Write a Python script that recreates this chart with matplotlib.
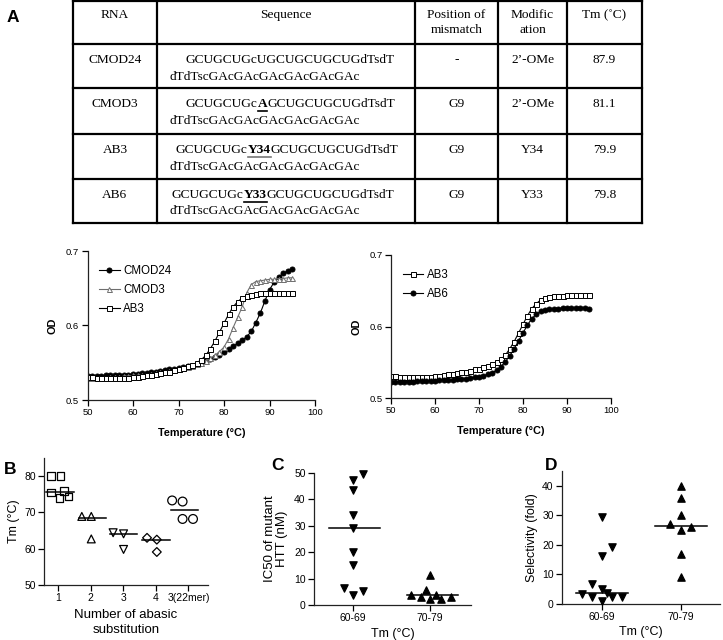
#!/usr/bin/env python
# coding: utf-8

"""Table of modified siRNAs, melting curves and Tm / IC50 / selectivity dot plots."""

import matplotlib
matplotlib.use("Agg")
import matplotlib.pyplot as plt
import numpy as np

# ---- melting curves (OD vs temperature) ----
temperature = list(range(50, 96))
od_cmod24 = [0.532, 0.532, 0.532, 0.532, 0.533, 0.533, 0.533, 0.534, 0.534, 0.534,
             0.535, 0.535, 0.536, 0.536, 0.537, 0.538, 0.539, 0.540, 0.541, 0.542,
             0.543, 0.544, 0.545, 0.546, 0.548, 0.549, 0.552, 0.555, 0.558, 0.561,
             0.564, 0.568, 0.572, 0.576, 0.580, 0.585, 0.592, 0.604, 0.617, 0.633,
             0.648, 0.658, 0.665, 0.670, 0.673, 0.676]
od_cmod3 = [0.530, 0.530, 0.530, 0.530, 0.530, 0.531, 0.531, 0.531, 0.532, 0.532,
            0.533, 0.533, 0.534, 0.534, 0.535, 0.536, 0.537, 0.538, 0.539, 0.540,
            0.541, 0.543, 0.544, 0.546, 0.548, 0.550, 0.553, 0.556, 0.560, 0.565,
            0.571, 0.582, 0.597, 0.611, 0.625, 0.644, 0.655, 0.659, 0.660, 0.661,
            0.662, 0.662, 0.663, 0.663, 0.664, 0.664]
od_ab3 = [0.531, 0.531, 0.530, 0.530, 0.530, 0.529, 0.529, 0.529, 0.530, 0.530,
          0.531, 0.531, 0.532, 0.533, 0.534, 0.535, 0.536, 0.537, 0.538, 0.540,
          0.541, 0.543, 0.545, 0.547, 0.550, 0.554, 0.560, 0.569, 0.579, 0.591,
          0.603, 0.615, 0.625, 0.632, 0.637, 0.640, 0.641, 0.642, 0.643, 0.643,
          0.644, 0.644, 0.644, 0.644, 0.644, 0.644]
od_ab6 = [0.523, 0.523, 0.523, 0.523, 0.523, 0.523, 0.524, 0.524, 0.524, 0.524,
          0.524, 0.525, 0.525, 0.525, 0.525, 0.526, 0.526, 0.527, 0.528, 0.529,
          0.530, 0.531, 0.533, 0.535, 0.539, 0.544, 0.551, 0.559, 0.569, 0.580,
          0.591, 0.602, 0.611, 0.617, 0.621, 0.623, 0.624, 0.625, 0.625, 0.626,
          0.626, 0.626, 0.626, 0.626, 0.626, 0.625]

# ---- table ----
table_header = ["RNA", "Sequence", "Position of\nmismatch", "Modific\nation", "Tm (˚C)"]
rna_names = ["CMOD24", "CMOD3", "AB3", "AB6"]
seq_before = ["GCUGCUGcUGCUGCUGCUGdTsdT", "GCUGCUGc", "GCUGCUGc", "GCUGCUGc"]
seq_mark = ["", "A", "Y34", "Y33"]
seq_after = ["", "GCUGCUGCUGdTsdT", "GCUGCUGCUGdTsdT", "GCUGCUGCUGdTsdT"]
seq_antisense = ["dTdTscGAcGAcGAcGAcGAcGAc"] * 4
mismatch = ["-", "G9", "G9", "G9"]
modification = ["2’-OMe", "2’-OMe", "Y34", "Y33"]
tm_values = ["87.9", "81.1", "79.9", "79.8"]

# ---- B: Tm vs number of abasic substitutions ----
b_labels = ["1", "2", "3", "4", "3(22mer)"]
b_tm = [[80.0, 80.0, 75.5, 75.9, 73.9, 74.4],
        [68.9, 68.9, 62.7],
        [64.4, 64.1, 59.8],
        [63.0, 62.5, 59.1],
        [73.3, 73.0, 68.2, 68.2]]
b_offset = [[-0.22, 0.08, -0.22, 0.18, 0.05, 0.32],
            [-0.27, 0.02, 0.02],
            [-0.31, 0.01, 0.01],
            [-0.27, 0.03, 0.03],
            [-0.5, -0.18, -0.18, 0.14]]
b_lines = [75.6, 68.6, 64.0, 62.4, 70.6]

# ---- C / D: IC50 and selectivity by Tm range ----
tm_groups = ["60-69", "70-79"]
c_ic50 = [[47.4, 49.5, 43.4, 34.2, 29.1, 20.2, 15.1, 6.6, 3.6, 5.4],
          [11.2, 5.7, 3.6, 2.9, 2.3, 3.6, 2.3, 3.2]]
c_offset = [[0, 0.13, 0, 0, 0, 0, 0, -0.12, 0, 0.13],
            [0, -0.06, -0.25, -0.12, 0, 0.07, 0.14, 0.27]]
c_lines = [29.1, 3.6]
d_sel = [[29.4, 19.3, 16.2, 6.9, 5.1, 3.7, 3.4, 2.3, 1.1, 2.3, 2.5],
         [40.0, 36.0, 30.0, 27.0, 25.0, 26.2, 17.0, 9.0]]
d_offset = [[0, 0.13, 0, -0.13, 0, 0.06, -0.25, -0.13, 0, 0.13, 0.25],
            [0, 0, 0, -0.13, 0, 0.13, 0, 0]]
d_lines = [3.7, 26.5]

W, H = 723, 640
SERIF = ["Liberation Serif", "DejaVu Serif"]
SANS = ["Liberation Sans", "DejaVu Sans"]
TABLE_FS = 9.6
plt.rcParams["font.family"] = SANS


def ax_rect(x0, y0, x1, y1):
    """pixel box (top-left origin) -> figure fraction rect"""
    return [x0 / W, 1 - y1 / H, (x1 - x0) / W, (y1 - y0) / H]


def style_axes(ax, labelsize):
    for side in ("top", "right"):
        ax.spines[side].set_visible(False)
    for side in ("left", "bottom"):
        ax.spines[side].set_linewidth(0.9)
        ax.spines[side].set_color("#222222")
    ax.tick_params(direction="out", length=4, width=0.9, labelsize=labelsize, pad=2)


def draw_table(fig, ov):
    renderer = fig.canvas.get_renderer()
    cols = [73, 157, 415, 498, 567, 642]
    rows = [1, 44, 88, 134, 179, 223]
    for x in cols:
        ov.plot([x, x], [rows[0], rows[-1]], color="black", lw=1.6, solid_capstyle="projecting")
    for y in rows:
        ov.plot([cols[0], cols[-1]], [y, y], color="black", lw=1.6, solid_capstyle="projecting")

    kw = dict(family=SERIF, fontsize=TABLE_FS, ha="center", va="top", linespacing=1.35)
    for i, label in enumerate(table_header):
        ov.text((cols[i] + cols[i + 1]) / 2, 9, label, **kw)

    first_x = [186, 186, 176, 172]
    for r in range(len(rna_names)):
        y1 = rows[r + 1] + 16
        y2 = y1 + 16.5
        ckw = dict(family=SERIF, fontsize=TABLE_FS, ha="center", va="center")
        ov.text((cols[0] + cols[1]) / 2, y1, rna_names[r], **ckw)
        ov.text((cols[2] + cols[3]) / 2, y1, mismatch[r], **ckw)
        ov.text((cols[3] + cols[4]) / 2, y1, modification[r], **ckw)
        ov.text((cols[4] + cols[5]) / 2, y1, tm_values[r], **ckw)

        x = first_x[r]
        parts = [(seq_before[r], False), (seq_mark[r], True), (seq_after[r], False)]
        for text, bold in parts:
            if not text:
                continue
            t = ov.text(x, y1, text, family=SERIF, fontsize=TABLE_FS, ha="left", va="center",
                        fontweight="bold" if bold else "normal")
            width = t.get_window_extent(renderer=renderer).width
            if bold:
                ucolor = "#777777" if seq_mark[r] == "Y34" else "black"
                ov.plot([x, x + width], [y1 + 6.5, y1 + 6.5], color=ucolor, lw=1.2)
            x += width
        ov.text(170, y2, seq_antisense[r], family=SERIF, fontsize=TABLE_FS, ha="left",
                va="center")


def draw_melt(ax, series):
    for values, label, marker, color, face in series:
        ax.plot(temperature, values, color=color, lw=0.8, marker=marker, ms=3.6,
                mfc=face, mec=color, mew=0.7, label=label)
    ax.set_xlim(50, 100)
    ax.set_ylim(0.5, 0.7)
    ax.set_xticks(range(50, 101, 10))
    ax.set_yticks([0.5, 0.6, 0.7])
    ax.set_yticklabels(["0.5", "0.6", "0.7"])
    style_axes(ax, 6.8)
    ax.set_xlabel("Temperature (°C)", fontsize=7.8, fontweight="bold", labelpad=8)
    ax.set_ylabel("OD", fontsize=7.8, fontweight="bold", labelpad=6)
    ax.legend(loc="upper left", bbox_to_anchor=(0.0, 0.985), frameon=False, fontsize=8.3,
              handlelength=1.8, handletextpad=0.3, labelspacing=0.6, borderaxespad=0.6)


def draw_dots(ax, values, offsets, lines, markers, face, size, spans, half=0.33):
    for i, (vals, offs) in enumerate(zip(values, offsets)):
        xs = np.full(len(vals), float(i)) + np.asarray(offs)
        ax.scatter(xs, vals, marker=markers[i], s=size[i], facecolors=face,
                   edgecolors="black", linewidths=0.9, zorder=3, clip_on=False)
        c = i + spans[i]
        ax.plot([c - half, c + half], [lines[i], lines[i]], color="black", lw=1.1, zorder=2)


def main():
    fig = plt.figure(figsize=(W / 100, H / 100), dpi=100)
    ov = fig.add_axes([0, 0, 1, 1])
    ov.set_xlim(0, W)
    ov.set_ylim(H, 0)
    ov.axis("off")

    draw_table(fig, ov)

    # panel letters
    for letter, (x, y) in zip("ABCD", [(7, 17), (4, 469), (271, 465), (545, 465)]):
        ov.text(x, y, letter, fontsize=12.5, fontweight="bold", ha="left", va="center",
                family=SANS)

    ax1 = fig.add_axes(ax_rect(87.5, 251, 315, 400))
    draw_melt(ax1, [
        (od_cmod24, "CMOD24", "o", "black", "black"),
        (od_cmod3, "CMOD3", "^", "#6e6e6e", "white"),
        (od_ab3, "AB3", "s", "black", "white"),
    ])
    ax2 = fig.add_axes(ax_rect(391, 255, 611, 398))
    draw_melt(ax2, [
        (od_ab3, "AB3", "s", "black", "white"),
        (od_ab6, "AB6", "o", "black", "black"),
    ])

    # B
    axb = fig.add_axes(ax_rect(44, 458, 208, 585))
    draw_dots(axb, b_tm, b_offset, b_lines, ["s", "^", "v", "D", "o"], "none",
              [30, 32, 32, 20, 40], [0.06, 0.05, 0.0, 0.0, -0.12], half=0.42)
    axb.set_xlim(-0.43, 4.6)
    axb.set_ylim(50, 85)
    axb.set_yticks([50, 60, 70, 80])
    axb.set_xticks(range(len(b_labels)))
    axb.set_xticklabels(b_labels)
    style_axes(axb, 7.5)
    axb.set_ylabel("Tm (°C)", fontsize=9, labelpad=3)
    axb.set_xlabel("Number of abasic\nsubstitution", fontsize=9.5, labelpad=4,
                   linespacing=1.3)

    # C
    axc = fig.add_axes(ax_rect(314, 473, 471, 605))
    draw_dots(axc, c_ic50, c_offset, c_lines, ["v", "^"], "black", [28, 28],
              [0.02, 0.03], half=0.33)
    axc.set_xlim(-0.506, 1.53)
    axc.set_ylim(0, 50)
    axc.set_yticks(range(0, 51, 10))
    axc.set_xticks([0, 1])
    axc.set_xticklabels(tm_groups)
    style_axes(axc, 7.5)
    axc.set_ylabel("IC50 of mutant\nHTT (nM)", fontsize=9.5, labelpad=4, linespacing=1.0)
    axc.set_xlabel("Tm (°C)", fontsize=9, labelpad=3)

    # D
    axd = fig.add_axes(ax_rect(562, 471, 720, 604))
    draw_dots(axd, d_sel, d_offset, d_lines, ["v", "^"], "black", [28, 28],
              [0.0, 0.01], half=0.33)
    axd.set_xlim(-0.506, 1.5)
    axd.set_ylim(0, 45)
    axd.set_yticks(range(0, 41, 10))
    axd.set_xticks([0, 1])
    axd.set_xticklabels(tm_groups)
    style_axes(axd, 7.5)
    axd.set_ylabel("Selectivity (fold)", fontsize=9, labelpad=3)
    axd.set_xlabel("Tm (°C)", fontsize=9, labelpad=3)

    fig.savefig("out.png", dpi=100)
    plt.close(fig)


if __name__ == "__main__":
    main()
